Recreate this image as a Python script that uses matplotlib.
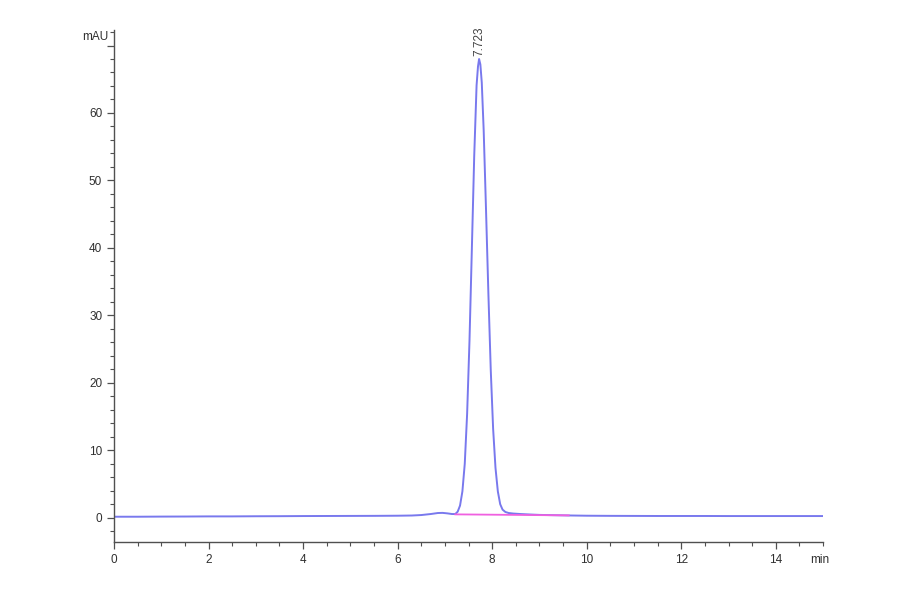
import matplotlib
matplotlib.use("Agg")
import matplotlib.pyplot as plt
from matplotlib.ticker import MultipleLocator

plt.rcParams["font.family"] = ["Liberation Sans", "DejaVu Sans"]

# Chromatogram trace (time in min, absorbance in mAU)
time = [0.0, 0.5, 1.0, 1.5, 2.0, 2.5, 3.0, 3.5, 4.0, 4.5, 5.0, 5.5, 6.0, 6.3,
        6.5, 6.7, 6.85, 6.95, 7.05, 7.15, 7.22, 7.27, 7.32, 7.37, 7.42, 7.47,
        7.52, 7.57, 7.62, 7.67, 7.70, 7.723, 7.75, 7.78, 7.82, 7.87, 7.92,
        7.97, 8.02, 8.07, 8.12, 8.17, 8.22, 8.28, 8.35, 8.45, 8.6, 8.8, 9.0,
        9.3, 9.6, 10.0, 10.5, 11.0, 11.5, 12.0, 12.5, 13.0, 13.5, 14.0, 14.5,
        15.0]
signal = [0.15, 0.15, 0.17, 0.18, 0.2, 0.2, 0.22, 0.23, 0.25, 0.26, 0.27, 0.28,
          0.3, 0.33, 0.4, 0.55, 0.7, 0.72, 0.65, 0.55, 0.55, 0.9, 1.8, 3.9, 8.0,
          15.4, 26.2, 39.8, 53.6, 64.1, 66.9, 68.0, 67.2, 64.5, 57.5, 45.6,
          33.2, 21.9, 13.2, 7.4, 3.9, 2.0, 1.2, 0.85, 0.7, 0.62, 0.55, 0.48,
          0.42, 0.38, 0.34, 0.3, 0.28, 0.27, 0.26, 0.26, 0.26, 0.25, 0.25,
          0.25, 0.25, 0.25]

# Integration baseline under the peak
base_time = [7.22, 9.62]
base_value = [0.5, 0.35]

peak_time = 7.723
peak_height = 68.0
peak_label = "7.723"

x_ticks = [0, 2, 4, 6, 8, 10, 12, 14]
y_ticks = [0, 10, 20, 30, 40, 50, 60, 70]

fig = plt.figure(figsize=(9, 5.94), dpi=100)
ax = fig.add_axes([0.1267, 0.0875, 0.7878, 0.8620])

line_col = "#6a6aec"
ax.plot(time, signal, color=line_col, lw=1.4, alpha=0.9)
ax.plot(base_time, base_value, color="#f060e0", lw=1.3)

ax.set_xlim(0, 15)
ax.set_ylim(-3.6, 72.3)

ax.set_xticks(x_ticks)
ax.set_yticks(y_ticks)
ax.xaxis.set_minor_locator(MultipleLocator(0.5))
ax.yaxis.set_minor_locator(MultipleLocator(2))

for s in ["top", "right"]:
    ax.spines[s].set_visible(False)
for s in ["left", "bottom"]:
    ax.spines[s].set_color("#505050")
    ax.spines[s].set_linewidth(1.0)

ax.tick_params(which="major", direction="out", length=5, width=0.9,
               color="#505050", labelsize=8.5, labelcolor="#303030")
ax.tick_params(which="minor", direction="out", length=3, width=0.8,
               color="#505050")
ax.set_yticklabels([str(v) if v != 70 else "" for v in y_ticks])

fig.text(0.091, 0.937, "mAU", fontsize=8.5, color="#303030", ha="left", va="center")
fig.text(0.900, 0.058, "min", fontsize=8.5, color="#303030", ha="left", va="center")

ax.text(peak_time, peak_height + 0.4, peak_label, rotation=90, fontsize=8.5,
        color="#404040", ha="center", va="bottom")

fig.savefig("out.png", dpi=100)
